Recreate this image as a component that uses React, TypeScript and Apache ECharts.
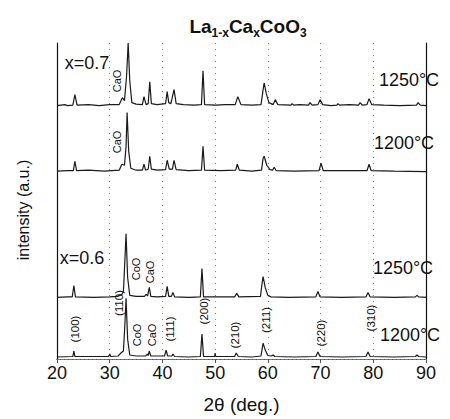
import React, { useEffect, useRef } from "react";
import * as echarts from "echarts";

const FONT = "'Liberation Sans', Arial, Helvetica, sans-serif";

// 2θ range and tick labels
const xMin = 20;
const xMax = 90;
const xStep = 10;

// Pattern names (top to bottom)
const patternNames = ["x=0.7 1250°C", "x=0.7 1200°C", "x=0.6 1250°C", "x=0.6 1200°C"];

// [2θ, relative intensity (a.u.)]
const p07_1250: [number, number][] = [
  [20, 0], [21.5, 1], [22, 0], [23.0, 0.5], [23.4, 11], [23.8, 0.5], [26, 1], [28, 0], [30, 1],
  [31.8, 1], [32.4, 8], [32.8, 5], [33.2, 30], [33.5, 63], [33.8, 25], [34.2, 3], [35, 1.5],
  [36.2, 1], [36.5, 9], [36.9, 1], [37.3, 2], [37.6, 24], [37.9, 2],
  [39, 1], [40.6, 2], [40.9, 14], [41.2, 3], [41.6, 2], [42.2, 16], [42.6, 2], [44, 1], [46, 0.5],
  [47.4, 1], [47.7, 35], [48.0, 1], [50, 0.5], [52, 1],
  [53.8, 1], [54.3, 9], [54.9, 1], [57, 0.5],
  [58.7, 1], [59.1, 16], [59.3, 23], [59.7, 12], [60.2, 3], [61.0, 1], [61.4, 6], [61.9, 1],
  [64.4, 0.5], [64.6, 2], [64.9, 0.5], [66, 1],
  [67.7, 0.5], [68, 3], [68.4, 0.5], [69.5, 1], [69.9, 6], [70.4, 1], [72, 0],
  [73.1, 0.5], [73.3, 2], [73.6, 0.5], [75.5, 1],
  [77.2, 0.5], [77.5, 3], [77.9, 0.5], [78.8, 1], [79.2, 7], [79.7, 1], [82, 0.5], [85, 0],
  [88.2, 0.5], [88.5, 3], [88.9, 0.5], [90, 0],
];

const p07_1200: [number, number][] = [
  [20, 0], [22, 0.5], [23.1, 0.5], [23.4, 10], [23.7, 0.5], [26, 1], [29, 0],
  [31.8, 1], [32.3, 7], [32.8, 6], [33.1, 25], [33.3, 59], [33.6, 20], [34, 3], [35, 1],
  [36.2, 1], [36.5, 7], [36.8, 1], [37.3, 2], [37.6, 15], [37.9, 2], [39, 1],
  [40.6, 1.5], [40.9, 11], [41.3, 2], [41.9, 2], [42.2, 11], [42.6, 1.5], [45, 0.5],
  [47.4, 1], [47.7, 25], [48.0, 1], [51, 0.5],
  [53.9, 1], [54.2, 7], [54.6, 1], [57, 0],
  [58.8, 1], [59.1, 13], [59.3, 15], [59.8, 6], [60.4, 1.5], [60.9, 1], [61.2, 4], [61.6, 0.5], [65, 0],
  [69.7, 0.5], [70.1, 8], [70.5, 0.5], [74, 0.5],
  [78.8, 0.5], [79.2, 7], [79.6, 0.5], [84, 0], [90, -0.5],
];

const p06_1250: [number, number][] = [
  [20, 0], [22, 0.5], [22.9, 0.5], [23.2, 12], [23.5, 0.5], [27, 0], [30, 0.5],
  [31.5, 1], [32.3, 3], [32.6, 6], [32.9, 40], [33.1, 64], [33.4, 20], [33.8, 2], [35, 1],
  [36.6, 1], [36.9, 3], [37.2, 1.5], [37.5, 10], [37.8, 1], [39, 0.5],
  [40.6, 1], [40.9, 11], [41.2, 1], [41.7, 1], [42, 5], [42.3, 0.5], [45, 0],
  [47.2, 0.5], [47.5, 29], [47.8, 0.5], [51, 0.5],
  [53.7, 0.5], [54.1, 4], [54.5, 0.5],
  [58.6, 1], [58.9, 14], [59.1, 21], [59.5, 10], [60, 2], [60.6, 0.5], [64, 0],
  [69.1, 0.5], [69.5, 6], [69.9, 0.5], [74, 0],
  [78.6, 0.5], [79, 5], [79.4, 0.5], [84, 0],
  [88, 0.5], [88.3, 2], [88.6, 0.5], [90, 0],
];

const p06_1200: [number, number][] = [
  [20, 0], [23, 0.5], [23.2, 6], [23.4, 0.5], [27, 0.5],
  [29.8, 0.5], [30, 3], [30.2, 0.5],
  [31.6, 1], [32.1, 4], [32.6, 6], [32.9, 35], [33.1, 59], [33.4, 18], [33.8, 2], [35, 1],
  [36.8, 1], [37.1, 3], [37.3, 1.5], [37.5, 6], [37.8, 1],
  [40.4, 1], [40.7, 7], [41, 1], [41.8, 1], [42, 3], [42.3, 0.5], [45, 0],
  [47.2, 0.5], [47.5, 23], [47.8, 0.5],
  [49.9, 0.5], [50, 4], [50.1, 0.5],
  [53.7, 0.5], [54, 4], [54.4, 0.5], [57, 0],
  [58.7, 1], [59, 11], [59.1, 14], [59.5, 7], [60, 1.5], [60.7, 1], [61, 2], [61.3, 0.5], [65, 0],
  [69.1, 0.5], [69.5, 5], [69.9, 0.5], [74, 0],
  [78.6, 0.5], [79, 5], [79.4, 0.5], [84, 0],
  [88, 0.5], [88.3, 2], [88.6, 0.5], [90, 0],
];

const patterns = [p07_1250, p07_1200, p06_1250, p06_1200];
// vertical stacking offsets (a.u.)
const offsets = [255, 189, 62, 2];
const yMax = 318;

const App: React.FC = () => {
  const ref = useRef<HTMLDivElement>(null);

  useEffect(() => {
    if (!ref.current) return;
    const chart = echarts.init(ref.current, undefined, { renderer: "svg" });

    const lineColor = "#1a1a1a";
    const series = patterns.map((pts, i) => ({
      name: patternNames[i],
      type: "line" as const,
      data: pts.map(([x, y]) => [x, y + offsets[i]]),
      symbol: "none",
      lineStyle: { color: lineColor, width: 1.2 },
      silent: true,
      z: 3,
    }));

    const txt = (text: string, x: number, y: number, fontSize: number, rot = 0, extra: any = {}) => ({
      type: "text",
      x,
      y,
      rotation: rot,
      z: 10,
      style: {
        text,
        fontSize,
        fontFamily: FONT,
        fill: "#111",
        align: "center",
        verticalAlign: "middle",
        ...extra,
      },
    });
    const R = Math.PI / 2;

    chart.setOption({
      animation: false,
      backgroundColor: "#fff",
      title: {
        text: "{m|La}{s|1-x}{m|Ca}{s|x}{m|CoO}{s|3}",
        left: 243,
        top: 9,
        textAlign: "center",
        textStyle: {
          rich: {
            m: { fontSize: 19, fontWeight: "bold", fontFamily: FONT, color: "#111", lineHeight: 24 },
            s: { fontSize: 12, fontWeight: "bold", fontFamily: FONT, color: "#111", padding: [13, 0, 0, 0], lineHeight: 24 },
          },
        },
      },
      grid: { left: 57, right: 24, top: 43, bottom: 58 },
      xAxis: [
        {
          type: "value",
          min: xMin,
          max: xMax,
          interval: xStep,
          position: "bottom",
          name: "2θ (deg.)",
          nameLocation: "middle",
          nameGap: 36,
          nameTextStyle: { fontSize: 19, fontFamily: FONT, color: "#111" },
          axisLine: { show: true, lineStyle: { color: "#111", width: 1 } },
          axisTick: { show: false },
          axisLabel: { fontSize: 18, fontFamily: FONT, color: "#111", margin: 5 },
          splitLine: { show: true, lineStyle: { color: "#888", width: 1, type: [1, 5] } },
        },
        {
          type: "value",
          min: xMin,
          max: xMax,
          interval: xStep,
          position: "top",
          axisLine: { show: true, lineStyle: { color: "#777", width: 1, type: [3, 1] } },
          axisTick: { show: true, inside: true, length: 4, lineStyle: { color: "#555" } },
          axisLabel: { show: false },
          splitLine: { show: false },
        },
      ],
      yAxis: [
        {
          type: "value",
          min: 0,
          max: yMax,
          position: "left",
          axisLine: { show: true, lineStyle: { color: "#111", width: 1.2 } },
          axisTick: { show: false },
          axisLabel: { show: false },
          splitLine: { show: false },
        },
        {
          type: "value",
          min: 0,
          max: yMax,
          position: "right",
          axisLine: { show: true, lineStyle: { color: "#111", width: 1.2 } },
          axisTick: { show: false },
          axisLabel: { show: false },
          splitLine: { show: false },
        },
      ],
      series,
      graphic: [
        txt("intensity (a.u.)", 23, 210, 16, R),
        txt("x=0.7", 87, 63, 18),
        txt("x=0.6", 82, 258, 18),
        txt("1250°C", 409, 80, 18),
        txt("1200°C", 404, 143, 18),
        txt("1250°C", 403, 268, 18),
        txt("1200°C", 410, 335, 18),
        txt("CaO", 117, 81, 11, R),
        txt("CaO", 117, 142, 11, R),
        txt("CoO", 136, 269, 11, R),
        txt("CaO", 150, 272, 11, R),
        txt("(100)", 75, 329, 11.5, R),
        txt("(110)", 119, 303, 11.5, R),
        txt("CoO", 137, 335, 11, R),
        txt("CaO", 152, 335, 11, R),
        txt("(111)", 170, 329, 11.5, R),
        txt("(200)", 204, 311, 11.5, R),
        txt("(210)", 235, 335, 11.5, R),
        txt("(211)", 266, 320, 11.5, R),
        txt("(220)", 321, 333, 11.5, R),
        txt("(310)", 371, 318, 11.5, R),
      ],
    });

    return () => chart.dispose();
  }, []);

  return <div ref={ref} style={{ width: 450, height: 419, position: "absolute", left: 0, top: 0 }} />;
};

export default App;
